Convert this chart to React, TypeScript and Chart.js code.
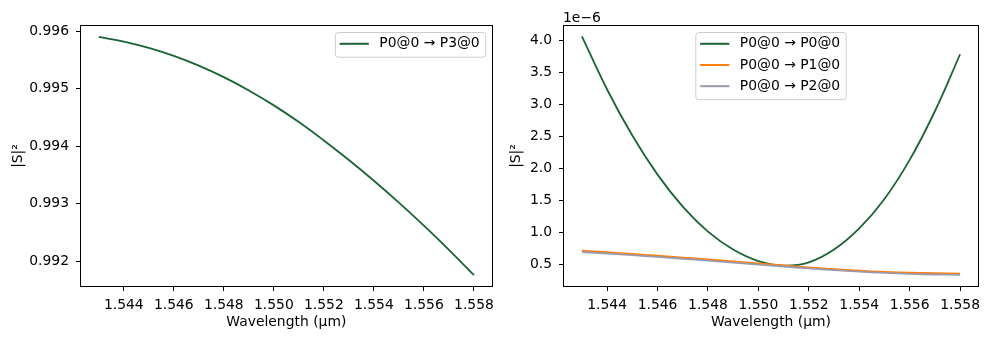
import React, { useEffect, useRef } from "react";
import { Chart, registerables } from "chart.js";

Chart.register(...registerables);

// ---- data ----
const wavelength = [1.543, 1.544, 1.545, 1.546, 1.547, 1.548, 1.549, 1.55, 1.551, 1.552, 1.553, 1.554, 1.555, 1.556, 1.557, 1.558];
const p0ToP3 = [0.9959, 0.99582, 0.99571, 0.99557, 0.9954, 0.9952, 0.99497, 0.99471, 0.99442, 0.9941, 0.99376, 0.9934, 0.99302, 0.99262, 0.9922, 0.99176];
// values below in units of 1e-6
const p0ToP0 = [4.06, 3.23, 2.51, 1.9, 1.4, 1.01, 0.73, 0.55, 0.48, 0.53, 0.73, 1.06, 1.52, 2.13, 2.89, 3.78];
const p0ToP1 = [0.713, 0.688, 0.661, 0.633, 0.605, 0.576, 0.546, 0.514, 0.482, 0.451, 0.423, 0.4, 0.382, 0.369, 0.36, 0.355];
const p0ToP2 = [0.692, 0.668, 0.642, 0.614, 0.586, 0.557, 0.527, 0.496, 0.465, 0.435, 0.408, 0.385, 0.366, 0.35, 0.34, 0.335];

const leftLabels = ["P0@0 → P3@0"];
const rightLabels = ["P0@0 → P0@0", "P0@0 → P1@0", "P0@0 → P2@0"];
const xTitle = "Wavelength (µm)";
const yTitle = "|S|²";
const offsetText = "1e−6";

const GREEN = "#1a6434";
const ORANGE = "#ff7f0e";
const GRAY = "#9a9aab";

const FONT_FAMILY = "'DejaVu Sans', sans-serif";
const FS = 13.9;

function decorPlugin(anchor: "right" | "center", offText?: string) {
  return {
    id: "mplDecor",
    afterDraw(chart: any) {
      const { ctx, chartArea: a } = chart;
      ctx.save();
      // frame
      ctx.strokeStyle = "#000";
      ctx.lineWidth = 1;
      const L = Math.round(a.left) + 0.5;
      const T = Math.round(a.top) + 0.5;
      const R = Math.round(a.right) - 0.5;
      const B = Math.round(a.bottom) - 0.5;
      ctx.strokeRect(L, T, R - L, B - T);
      // legend
      ctx.font = `${FS}px ${FONT_FAMILY}`;
      const ds = chart.data.datasets;
      const textW = Math.max(...ds.map((d: any) => ctx.measureText(d.label).width));
      const w = 44 + textW + 6;
      const rowH = 21.2;
      const h = 3.5 + rowH * ds.length;
      const top = a.top + 7.5;
      const left = anchor === "right" ? a.right - 7 - w : (a.left + a.right) / 2 - w / 2;
      ctx.beginPath();
      if ((ctx as any).roundRect) {
        (ctx as any).roundRect(left, top, w, h, 3);
      } else {
        ctx.rect(left, top, w, h);
      }
      ctx.fillStyle = "rgba(255,255,255,0.8)";
      ctx.fill();
      ctx.strokeStyle = "#cccccc";
      ctx.lineWidth = 1;
      ctx.stroke();
      ds.forEach((d: any, i: number) => {
        const cy = top + 11.3 + i * rowH;
        ctx.beginPath();
        ctx.strokeStyle = d.borderColor;
        ctx.lineWidth = 2;
        ctx.moveTo(left + 4.3, cy);
        ctx.lineTo(left + 33.5, cy);
        ctx.stroke();
        ctx.fillStyle = "#000";
        ctx.textAlign = "left";
        ctx.textBaseline = "middle";
        ctx.fillText(d.label, left + 44, cy);
      });
      if (offText) {
        ctx.fillStyle = "#000";
        ctx.textAlign = "left";
        ctx.textBaseline = "alphabetic";
        ctx.fillText(offText, a.left, a.top - 3.5);
      }
      ctx.restore();
    },
  };
}

function makeOptions(cfg: {
  yMin: number;
  yMax: number;
  yStep: number;
  yDigits: number;
  yWidth: number;
  padRight: number;
  yTitlePad: number;
}) {
  const font = { family: FONT_FAMILY, size: FS };
  return {
    animation: false,
    responsive: false,
    maintainAspectRatio: false,
    layout: { padding: { left: 0, right: cfg.padRight, top: 25, bottom: 0 } },
    plugins: { legend: { display: false }, tooltip: { enabled: false } },
    elements: {
      point: { radius: 0 },
      line: { borderWidth: 1.8, tension: 0.4 },
    },
    scales: {
      x: {
        type: "linear",
        min: 1.54225,
        max: 1.55875,
        afterFit: (s: any) => {
          s.height = 53;
        },
        border: { display: false },
        grid: { drawOnChartArea: false, color: "#000", tickLength: 4, lineWidth: 1 },
        ticks: {
          stepSize: 0.002,
          includeBounds: false,
          autoSkip: false,
          maxRotation: 0,
          color: "#000",
          font,
          padding: 6,
          callback: (v: number) => v.toFixed(3),
        },
        title: {
          display: true,
          text: xTitle,
          color: "#000",
          font,
          padding: { top: 0, bottom: 9.7 },
        },
      },
      y: {
        type: "linear",
        min: cfg.yMin,
        max: cfg.yMax,
        afterFit: (s: any) => {
          s.width = cfg.yWidth;
        },
        border: { display: false },
        grid: { drawOnChartArea: false, color: "#000", tickLength: 4, lineWidth: 1 },
        ticks: {
          stepSize: cfg.yStep,
          includeBounds: false,
          autoSkip: false,
          color: "#000",
          font,
          padding: 7,
          callback: (v: number) => v.toFixed(cfg.yDigits),
        },
        title: {
          display: true,
          text: yTitle,
          color: "#000",
          font,
          padding: { top: cfg.yTitlePad, bottom: 0 },
        },
      },
    },
  } as any;
}

const pts = (arr: number[]) => wavelength.map((x, i) => ({ x, y: arr[i] }));

function LeftChart() {
  const ref = useRef<HTMLCanvasElement>(null);
  useEffect(() => {
    const chart = new Chart(ref.current as HTMLCanvasElement, {
      type: "line",
      data: {
        datasets: [
          { label: leftLabels[0], data: pts(p0ToP3), borderColor: GREEN, backgroundColor: GREEN, fill: false },
        ],
      },
      options: makeOptions({
        yMin: 0.991553,
        yMax: 0.996107,
        yStep: 0.001,
        yDigits: 3,
        yWidth: 80,
        padRight: 4,
        yTitlePad: 9.7,
      }),
      plugins: [decorPlugin("right")],
    });
    return () => chart.destroy();
  }, []);
  return (
    <canvas
      ref={ref}
      width={500}
      height={340}
      style={{ position: "absolute", left: 0, top: 0, width: 500, height: 340 }}
    />
  );
}

function RightChart() {
  const ref = useRef<HTMLCanvasElement>(null);
  useEffect(() => {
    const chart = new Chart(ref.current as HTMLCanvasElement, {
      type: "line",
      data: {
        datasets: [
          { label: rightLabels[0], data: pts(p0ToP0), borderColor: GREEN, backgroundColor: GREEN, fill: false, order: 3 },
          { label: rightLabels[1], data: pts(p0ToP1), borderColor: ORANGE, backgroundColor: ORANGE, fill: false, order: 2 },
          { label: rightLabels[2], data: pts(p0ToP2), borderColor: GRAY, backgroundColor: GRAY, fill: false, order: 1 },
        ],
      },
      options: makeOptions({
        yMin: 0.145,
        yMax: 4.237,
        yStep: 0.5,
        yDigits: 1,
        yWidth: 73,
        padRight: 11,
        yTitlePad: 17.7,
      }),
      plugins: [decorPlugin("center", offsetText)],
    });
    return () => chart.destroy();
  }, []);
  return (
    <canvas
      ref={ref}
      width={500}
      height={340}
      style={{ position: "absolute", left: 490, top: 0, width: 500, height: 340 }}
    />
  );
}

export default function App() {
  return (
    <div style={{ position: "absolute", left: 0, top: 0, width: 990, height: 340, background: "#fff", overflow: "hidden" }}>
      <LeftChart />
      <RightChart />
    </div>
  );
}
